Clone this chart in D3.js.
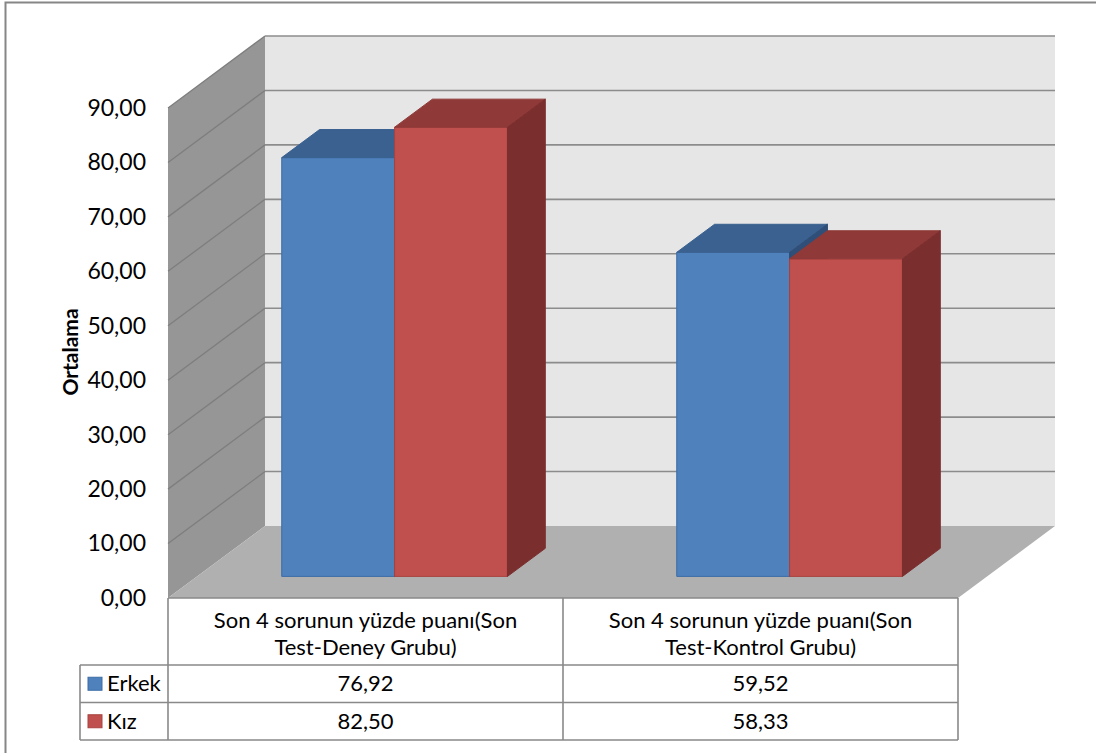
<!DOCTYPE html>
<html>
<head>
<meta charset="utf-8">
<script src="https://cdn.jsdelivr.net/npm/d3@7"></script>
<style>
  body { margin: 0; background: #fff; }
  text { font-family: Lato, "Open Sans", sans-serif; fill: #000; }
</style>
</head>
<body>
<div id="chart"></div>
<script>
// DATA
var categoryLines = [
  ["Son 4 sorunun yüzde puanı(Son", "Test-Deney Grubu)"],
  ["Son 4 sorunun yüzde puanı(Son", "Test-Kontrol Grubu)"]
];
var categories = categoryLines.map(d => d.join(" "));
var seriesNames = ["Erkek", "Kız"];
var erkekValues = [76.92, 59.52];
var kizValues = [82.50, 58.33];
var yTickValues = [0, 10, 20, 30, 40, 50, 60, 70, 80, 90];
var yTitle = "Ortalama";

// COLOURS
var seriesColors = {
  "Erkek": { front: "#4F81BD", top: "#3A6190", side: "#2F4F78", stroke: "#3D6DA5" },
  "Kız": { front: "#C0504D", top: "#8F3A38", side: "#7B2E2E", stroke: "#A8423F" }
};

// SET UP CHART
var svgWidth = 1096;
var svgHeight = 753;
var fontSize = "22px";

var plot = { left: 168, right: 958, top: 108, bottom: 598 };
var depth = { dx: 97, dy: -72 };
var barFront = 0.30, barBack = 0.69;

var svg = d3.select("#chart")
  .append("svg")
  .attr("width", svgWidth)
  .attr("height", svgHeight);

// outer chart border
svg.append("rect")
  .attr("x", 5.5)
  .attr("y", 2.5)
  .attr("width", svgWidth + 10)
  .attr("height", svgHeight + 10)
  .attr("fill", "#fff")
  .attr("stroke", "#868686")
  .attr("stroke-width", 2);

// SCALES
var y = d3.scaleLinear()
  .domain([0, 90])
  .range([plot.bottom, plot.top]);

var x0 = d3.scaleBand()
  .domain(categories)
  .range([plot.left, plot.right]);

var x1 = d3.scaleBand()
  .domain(seriesNames)
  .range([0, x0.bandwidth()])
  .paddingInner(0)
  .paddingOuter(0.75);

// project a point (front x, value, depth fraction) into the picture
function proj(xv, v, f) {
  return [xv + f * depth.dx, y(v) + f * depth.dy];
}
function poly(pts) {
  return "M" + pts.map(p => p.join(",")).join("L") + "Z";
}

var fmt = d => d.toFixed(2).replace(".", ",");
var vMax = y.domain()[1];

// WALLS AND FLOOR
var walls = svg.append("g");

walls.append("path")
  .attr("d", poly([proj(plot.left, 0, 0), proj(plot.left, vMax, 0), proj(plot.left, vMax, 1), proj(plot.left, 0, 1)]))
  .attr("fill", "#969696");

walls.append("path")
  .attr("d", poly([proj(plot.left, 0, 1), proj(plot.left, vMax, 1), proj(plot.right, vMax, 1), proj(plot.right, 0, 1)]))
  .attr("fill", "#E6E6E6");

walls.append("path")
  .attr("d", poly([proj(plot.left, 0, 0), proj(plot.left, 0, 1), proj(plot.right, 0, 1), proj(plot.right, 0, 0)]))
  .attr("fill", "#B0B0B0");

// GRIDLINES
var grid = svg.append("g");
yTickValues.filter(v => v > 0).forEach(function(v) {
  var a = proj(plot.left, v, 0), b = proj(plot.left, v, 1), c = proj(plot.right, v, 1);
  grid.append("line")
    .attr("x1", a[0]).attr("y1", a[1]).attr("x2", b[0]).attr("y2", b[1])
    .attr("stroke", "#7E7E7E").attr("stroke-width", 1.3);
  grid.append("line")
    .attr("x1", b[0]).attr("y1", b[1]).attr("x2", c[0]).attr("y2", c[1])
    .attr("stroke", "#8C8C8C").attr("stroke-width", 1.6);
});

// Y AXIS
var leftAxis = d3.axisLeft(y)
  .tickValues(yTickValues)
  .tickFormat(fmt)
  .tickSize(0)
  .tickPadding(22);

var yAxis = svg.append("g")
  .attr("transform", `translate(${plot.left}, 0)`)
  .call(leftAxis);
yAxis.select(".domain").remove();
yAxis.selectAll("text")
  .attr("font-family", "Lato, sans-serif")
  .attr("font-size", "23px")
  .attr("fill", "#000");

svg.append("text")
  .attr("transform", "rotate(-90)")
  .attr("x", -352)
  .attr("y", 78)
  .attr("text-anchor", "middle")
  .attr("font-size", "21px")
  .attr("font-weight", "bold")
  .text(yTitle);

// BARS
var barData = [];
categories.forEach(function(cat, i) {
  barData.push({ cat: cat, series: "Erkek", value: erkekValues[i] });
  barData.push({ cat: cat, series: "Kız", value: kizValues[i] });
});

var bars = svg.append("g")
  .selectAll("g")
  .data(barData)
  .enter()
  .append("g");

bars.each(function(d) {
  var g = d3.select(this);
  var xl = x0(d.cat) + x1(d.series);
  var xr = xl + x1.bandwidth();
  var col = seriesColors[d.series];

  // front face
  g.append("path")
    .attr("d", poly([proj(xl, 0, barFront), proj(xl, d.value, barFront), proj(xr, d.value, barFront), proj(xr, 0, barFront)]))
    .attr("fill", col.front)
    .attr("stroke", col.stroke)
    .attr("stroke-width", 1);

  // top face
  g.append("path")
    .attr("d", poly([proj(xl, d.value, barFront), proj(xl, d.value, barBack), proj(xr, d.value, barBack), proj(xr, d.value, barFront)]))
    .attr("fill", col.top)
    .attr("stroke", col.top)
    .attr("stroke-width", 1);

  // side face
  g.append("path")
    .attr("d", poly([proj(xr, 0, barFront), proj(xr, d.value, barFront), proj(xr, d.value, barBack), proj(xr, 0, barBack)]))
    .attr("fill", col.side)
    .attr("stroke", col.side)
    .attr("stroke-width", 1);
});

// DATA TABLE
var rowTop = plot.bottom;
var catRowBottom = 665;
var rowHeight = 37.5;
var legendLeft = 80;
var lineColor = "#898989";

var table = svg.append("g")
  .attr("stroke", lineColor)
  .attr("stroke-width", 1.6)
  .attr("fill", "none");

// horizontal lines
table.append("line")
  .attr("x1", plot.left).attr("x2", plot.right)
  .attr("y1", rowTop).attr("y2", rowTop);
[0, 1, 2].forEach(function(i) {
  var yy = catRowBottom + i * rowHeight;
  table.append("line")
    .attr("x1", legendLeft).attr("x2", plot.right)
    .attr("y1", yy).attr("y2", yy);
});

// vertical lines
[plot.left].concat(categories.map(c => x0(c) + x0.bandwidth())).forEach(function(xx) {
  table.append("line")
    .attr("x1", xx).attr("x2", xx)
    .attr("y1", rowTop).attr("y2", catRowBottom + 2 * rowHeight);
});
table.append("line")
  .attr("x1", legendLeft).attr("x2", legendLeft)
  .attr("y1", catRowBottom).attr("y2", catRowBottom + 2 * rowHeight);

// category labels
categoryLines.forEach(function(lines, i) {
  var cx = x0(categories[i]) + x0.bandwidth() / 2;
  svg.append("text")
    .attr("x", cx)
    .attr("y", 628)
    .attr("text-anchor", "middle")
    .attr("font-size", fontSize)
    .selectAll("tspan")
    .data(lines)
    .enter()
    .append("tspan")
    .attr("x", cx)
    .attr("dy", (l, j) => j === 0 ? 0 : 27)
    .text(l => l);
});

// legend rows and values
var seriesValues = [erkekValues, kizValues];
seriesNames.forEach(function(name, s) {
  var rowMid = catRowBottom + s * rowHeight + rowHeight / 2;
  var col = seriesColors[name];

  svg.append("rect")
    .attr("x", 88)
    .attr("y", rowMid - 6.5)
    .attr("width", 14)
    .attr("height", 13)
    .attr("fill", col.front)
    .attr("stroke", col.stroke)
    .attr("stroke-width", 1);

  svg.append("text")
    .attr("x", 107)
    .attr("y", rowMid + 7.5)
    .attr("font-size", fontSize)
    .text(name);

  seriesValues[s].forEach(function(v, i) {
    svg.append("text")
      .attr("x", x0(categories[i]) + x0.bandwidth() / 2)
      .attr("y", rowMid + 7.5)
      .attr("text-anchor", "middle")
      .attr("font-size", fontSize)
      .text(fmt(v));
  });
});
</script>
</body>
</html>
